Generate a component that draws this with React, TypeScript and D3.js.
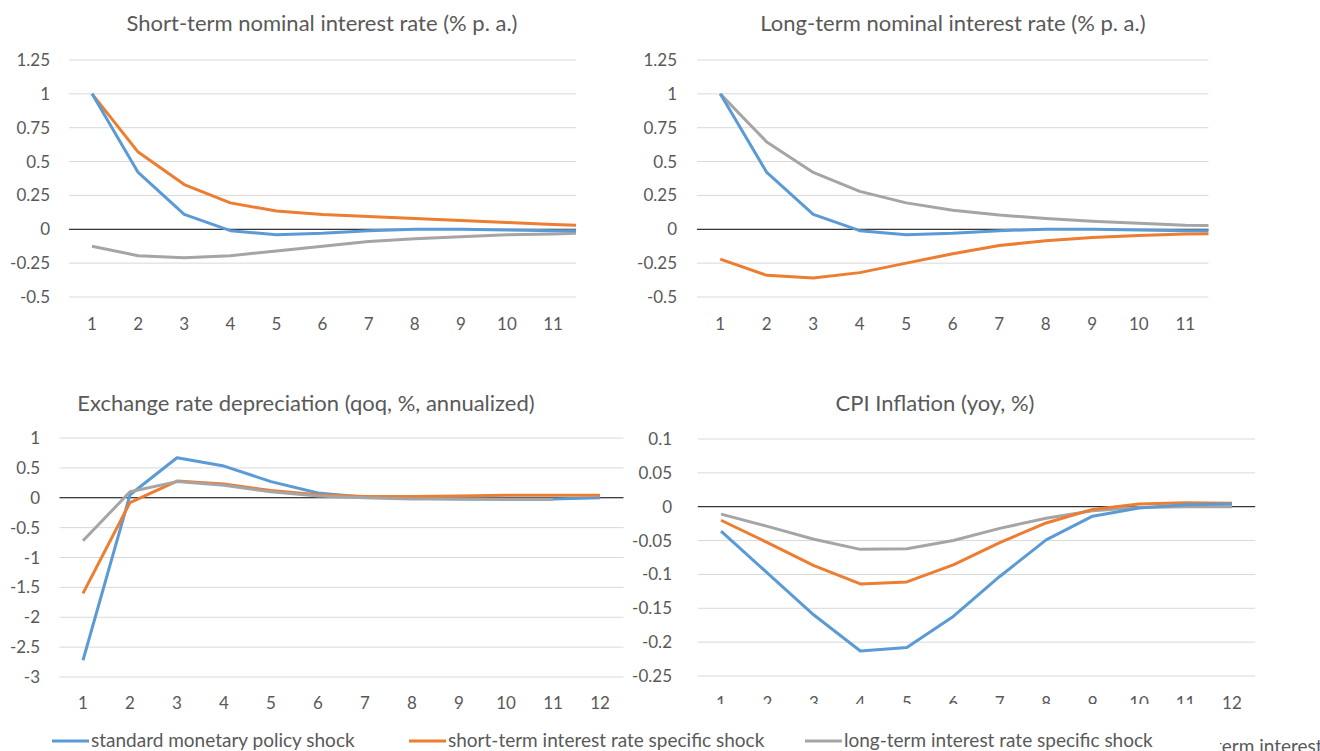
import React, { useEffect, useRef } from 'react';
import * as d3 from 'd3';

// periods after shock
const periods = [1, 2, 3, 4, 5, 6, 7, 8, 9, 10, 11, 12];

const seriesNames = [
  'standard monetary policy shock',
  'short-term interest rate specific shock',
  'long-term interest rate specific shock',
];

// Short-term nominal interest rate
const stStandard = [1.0, 0.42, 0.11, -0.01, -0.04, -0.03, -0.01, 0.0, 0.0, -0.005, -0.01, -0.01];
const stShort = [1.0, 0.57, 0.33, 0.195, 0.135, 0.11, 0.095, 0.08, 0.065, 0.05, 0.035, 0.025];
const stLong = [-0.125, -0.195, -0.21, -0.195, -0.16, -0.125, -0.09, -0.07, -0.055, -0.04, -0.035, -0.025];

// Long-term nominal interest rate
const ltStandard = [1.0, 0.42, 0.11, -0.01, -0.04, -0.03, -0.01, 0.0, 0.0, -0.005, -0.01, -0.01];
const ltShort = [-0.22, -0.34, -0.36, -0.32, -0.25, -0.18, -0.12, -0.085, -0.06, -0.045, -0.035, -0.03];
const ltLong = [1.0, 0.645, 0.42, 0.28, 0.195, 0.14, 0.105, 0.08, 0.06, 0.045, 0.03, 0.025];

// Exchange rate depreciation
const fxStandard = [-2.72, 0.05, 0.67, 0.53, 0.27, 0.08, 0.01, -0.01, -0.02, -0.02, -0.02, 0.0];
const fxShort = [-1.6, -0.08, 0.28, 0.23, 0.12, 0.05, 0.02, 0.02, 0.03, 0.04, 0.04, 0.04];
const fxLong = [-0.72, 0.1, 0.27, 0.21, 0.1, 0.03, 0.0, -0.02, -0.02, -0.03, -0.03];

// CPI inflation
const cpiStandard = [-0.036, -0.098, -0.16, -0.213, -0.208, -0.162, -0.103, -0.049, -0.014, -0.002, 0.003, 0.004];
const cpiShort = [-0.02, -0.053, -0.087, -0.114, -0.111, -0.086, -0.053, -0.024, -0.004, 0.004, 0.006, 0.005];
const cpiLong = [-0.011, -0.029, -0.048, -0.063, -0.062, -0.05, -0.032, -0.017, -0.006, -0.001, 0.0, 0.0];

const rateTicks = [-0.5, -0.25, 0, 0.25, 0.5, 0.75, 1, 1.25];
const fxTicks = [-3, -2.5, -2, -1.5, -1, -0.5, 0, 0.5, 1];
const cpiTicks = [-0.25, -0.2, -0.15, -0.1, -0.05, 0, 0.05, 0.1];

const colors = ['#5B9BD5', '#ED7D31', '#A5A5A5'];
const FONT = 'Lato, "Open Sans", sans-serif';
const TXT = '#595959';

const App = () => {
  const svgRef = useRef(null);

  useEffect(() => {
    const svg = d3.select(svgRef.current);
    svg.selectAll('*').remove();

    const defs = svg.append('defs');

    const drawPanel = (opts) => {
      const { id, title, titleX, titleY, left, top, bottom, bw, shown, ticks, series, order, labelX, xLabelY } = opts;
      const g = svg.append('g');
      const x = d3.scaleBand().domain(periods.map(String)).range([left, left + periods.length * bw]);
      const y = d3.scaleLinear().domain([ticks[0], ticks[ticks.length - 1]]).range([bottom, top]);
      const right = left + shown * bw;

      g.append('text')
        .attr('x', titleX).attr('y', titleY)
        .attr('text-anchor', 'middle')
        .attr('font-size', 22).attr('fill', TXT).attr('font-family', FONT)
        .text(title);

      g.selectAll('.grid').data(ticks.filter((t) => t !== 0)).enter().append('line')
        .attr('x1', left).attr('x2', right)
        .attr('y1', (d) => y(d)).attr('y2', (d) => y(d))
        .attr('stroke', '#D9D9D9').attr('stroke-width', 1);

      g.selectAll('.ylab').data(ticks).enter().append('text')
        .attr('x', labelX).attr('y', (d) => y(d) + 6)
        .attr('text-anchor', 'end')
        .attr('font-size', 17).attr('fill', TXT).attr('font-family', FONT)
        .text((d) => String(d));

      g.selectAll('.xlab').data(periods.slice(0, shown)).enter().append('text')
        .attr('x', (d) => x(String(d)) + x.bandwidth() / 2).attr('y', xLabelY)
        .attr('text-anchor', 'middle')
        .attr('font-size', 17).attr('fill', TXT).attr('font-family', FONT)
        .text((d) => String(d));

      defs.append('clipPath').attr('id', id)
        .append('rect').attr('x', left).attr('y', 0).attr('width', right - left).attr('height', 751);

      const line = d3.line()
        .x((d, i) => x(String(periods[i])) + x.bandwidth() / 2)
        .y((d) => y(d));

      g.append('line')
        .attr('x1', left).attr('x2', right)
        .attr('y1', y(0)).attr('y2', y(0))
        .attr('stroke', '#000').attr('stroke-width', 1);

      const lines = g.append('g').attr('clip-path', `url(#${id})`);
      order.forEach((k) => {
        lines.append('path')
          .datum(series[k])
          .attr('d', line)
          .attr('fill', 'none')
          .attr('stroke', colors[k])
          .attr('stroke-width', 3)
          .attr('stroke-linejoin', 'round');
      });
    };

    drawPanel({
      id: 'c1', title: 'Short-term nominal interest rate (% p. a.)', titleX: 322, titleY: 31,
      left: 69, top: 60, bottom: 297, bw: 46.1, shown: 11, ticks: rateTicks,
      series: [stStandard, stShort, stLong], order: [2, 1, 0], labelX: 50, xLabelY: 330,
    });
    drawPanel({
      id: 'c2', title: 'Long-term nominal interest rate (% p. a.)', titleX: 953, titleY: 31,
      left: 697, top: 60, bottom: 297, bw: 46.5, shown: 11, ticks: rateTicks,
      series: [ltStandard, ltShort, ltLong], order: [1, 2, 0], labelX: 677, xLabelY: 330,
    });
    drawPanel({
      id: 'c4', title: 'CPI Inflation (yoy, %)', titleX: 935, titleY: 411,
      left: 697.8, top: 439, bottom: 676, bw: 46.45, shown: 12, ticks: cpiTicks,
      series: [cpiStandard, cpiShort, cpiLong], order: [2, 1, 0], labelX: 672, xLabelY: 709,
    });

    // fragment of the lower-right legend, mostly hidden behind the left chart
    svg.append('text')
      .attr('x', 1215).attr('y', 753)
      .attr('font-size', 19).attr('fill', TXT).attr('font-family', FONT)
      .text(seriesNames[1].replace('short-', ''));

    svg.append('rect')
      .attr('x', 0).attr('y', 704).attr('width', 1220).attr('height', 47)
      .attr('fill', '#fff');

    drawPanel({
      id: 'c3', title: 'Exchange rate depreciation (qoq, %, annualized)', titleX: 306, titleY: 411,
      left: 59.5, top: 438, bottom: 677, bw: 47, shown: 12, ticks: fxTicks,
      series: [fxStandard, fxShort, fxLong], order: [0, 1, 2], labelX: 40, xLabelY: 709,
    });

    const legendX = [52, 409, 805];
    const leg = svg.append('g');
    seriesNames.forEach((name, i) => {
      leg.append('line')
        .attr('x1', legendX[i]).attr('x2', legendX[i] + 37)
        .attr('y1', 741).attr('y2', 741)
        .attr('stroke', colors[i]).attr('stroke-width', 3);
      leg.append('text')
        .attr('x', legendX[i] + 39).attr('y', 747)
        .attr('font-size', 19).attr('fill', TXT).attr('font-family', FONT)
        .text(name);
    });
  }, []);

  return (
    <svg
      ref={svgRef}
      width={1320}
      height={751}
      style={{ position: 'absolute', left: 0, top: 0, background: '#fff' }}
    ></svg>
  );
};

export default App;
